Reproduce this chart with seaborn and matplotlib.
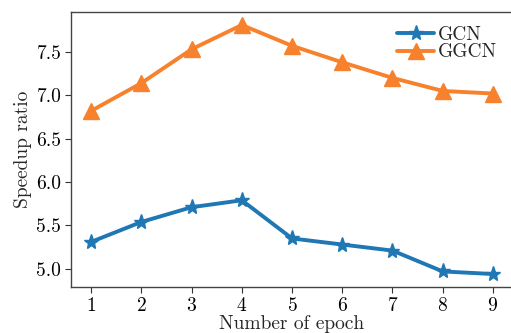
import matplotlib
matplotlib.use("Agg")
import matplotlib.pyplot as plt
import seaborn as sns
import pandas as pd

epochs = [1, 2, 3, 4, 5, 6, 7, 8, 9]
gcn = [5.31, 5.54, 5.71, 5.79, 5.35, 5.28, 5.21, 4.97, 4.94]
ggcn = [6.82, 7.14, 7.53, 7.81, 7.57, 7.38, 7.20, 7.05, 7.02]
series_names = ["GCN", "GGCN"]

sns.set_style("ticks")
plt.rcParams["font.family"] = ["cmr10", "DejaVu Serif"]
plt.rcParams["axes.formatter.use_mathtext"] = True
plt.rcParams["mathtext.fontset"] = "cm"

df = pd.DataFrame({
    "epoch": epochs * 2,
    "ratio": gcn + ggcn,
    "model": [series_names[0]] * len(epochs) + [series_names[1]] * len(epochs),
})

fig = plt.figure(figsize=(5.11, 3.33), dpi=100)
ax = fig.add_axes([0.139, 0.138, 0.865, 0.826])
sns.lineplot(data=df, x="epoch", y="ratio", hue="model", style="model",
             markers={"GCN": "*", "GGCN": "^"}, dashes=False,
             palette=["#1f77b4", "#f7812c"], linewidth=2.8, markersize=11,
             markeredgewidth=1.0, ax=ax)
for ln in ax.lines:
    ln.set_markeredgecolor(ln.get_color())

ax.set_xlim(0.6, 9.4)
ax.set_ylim(4.79, 7.96)
ax.set_xticks(epochs)
ax.set_yticks([5.0, 5.5, 6.0, 6.5, 7.0, 7.5])
ax.set_yticklabels(["5.0", "5.5", "6.0", "6.5", "7.0", "7.5"])
ax.tick_params(labelsize=14, length=4, width=0.8, colors="#333333", labelcolor="black", pad=3)
ax.set_xlabel("Number of epoch", fontsize=14, labelpad=0)
ax.set_ylabel("Speedup ratio", fontsize=14, labelpad=3)
for s in ax.spines.values():
    s.set_color("#444444")
    s.set_linewidth(1.0)
leg = ax.legend(loc="upper right", frameon=False, fontsize=14, handlelength=1.9,
                handletextpad=0.2, borderaxespad=0.3, labelspacing=0.0,
                bbox_to_anchor=(0.995, 1.0))
for h in leg.legend_handles:
    try:
        h.set_markeredgecolor(h.get_color())
    except Exception:
        pass
fig.savefig("out.png", dpi=100)
